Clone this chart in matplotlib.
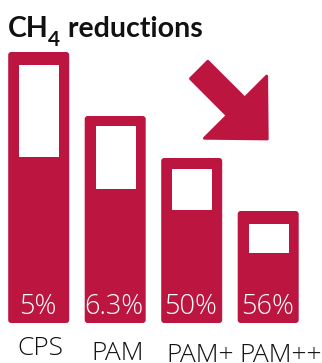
import matplotlib
matplotlib.use("Agg")
import matplotlib.pyplot as plt
from matplotlib.patches import FancyBboxPatch, Polygon

# Data
categories = ["CPS", "PAM", "PAM+", "PAM++"]
bar_heights = [271, 207, 165, 112]
window_top = [258, 197, 154, 99]
window_bottom = [166, 134, 113, 70]
pct_labels = ["5%", "6.3%", "50%", "56%"]

RED = "#BC1540"
INK = "#111111"
W, H = 322, 363
BASE = 40
BAR_W = 61
WIN_W = 40
X0, STEP = 38.7, 76.5
LABEL_SHIFT = [1.5, 2.5, 8, 12]
LABEL_BASELINE = [8, 3.5, 1.5, 1.5]
TITLE_FONT = "Lato"
LABEL_FONT = "Open Sans"

fig = plt.figure(figsize=(W / 100, H / 100), dpi=100)
ax = fig.add_axes([0, 0, 1, 1])
ax.set_xlim(0, W)
ax.set_ylim(0, H)
ax.axis("off")

xs = [X0 + STEP * i for i in range(len(categories))]

for i, (x, h) in enumerate(zip(xs, bar_heights)):
    ax.add_patch(FancyBboxPatch((x - BAR_W / 2, BASE), BAR_W, h,
                                boxstyle="round,pad=0,rounding_size=3",
                                fc=RED, ec="none"))
    ax.add_patch(plt.Rectangle((x - WIN_W / 2 + 0.5, BASE + window_bottom[i]),
                               WIN_W, window_top[i] - window_bottom[i],
                               fc="white", ec="none"))
    ax.text(x - 1, BASE + 9, pct_labels[i], color="white", ha="center",
            va="baseline", fontsize=19.5, family=LABEL_FONT, fontweight="light")
    ax.text(x + LABEL_SHIFT[i], LABEL_BASELINE[i], categories[i], color=INK,
            ha="center", va="baseline", fontsize=19, family=LABEL_FONT,
            fontweight="light")

# Title with subscript
t1 = ax.text(8, H - 37.3, "CH", fontsize=20.5, family=TITLE_FONT,
             fontweight="bold", va="baseline", ha="left", color=INK)
t2 = ax.annotate("4", xy=(1, H - 46), xycoords=(t1, "data"), xytext=(-1, 0),
                 textcoords="offset pixels", fontsize=15, family=TITLE_FONT,
                 fontweight="bold", va="baseline", ha="left", color=INK)
t3 = ax.annotate(" reductions", xy=(1, H - 37.3), xycoords=(t2, "data"),
                 xytext=(1, 0), textcoords="offset pixels", fontsize=20.5,
                 family=TITLE_FONT, fontweight="bold", va="baseline",
                 ha="left", color=INK)

# Downward arrow
pts = [(207.8, 61.2), (244.7, 98.0), (266.7, 76.0), (267.3, 139.0),
       (204.3, 138.3), (227.2, 115.5), (190.4, 78.6)]
ax.add_patch(Polygon([(px, H - py) for px, py in pts], closed=True,
                     fc=RED, ec=RED, lw=2, joinstyle="round"))

fig.savefig("out.png", dpi=100)
